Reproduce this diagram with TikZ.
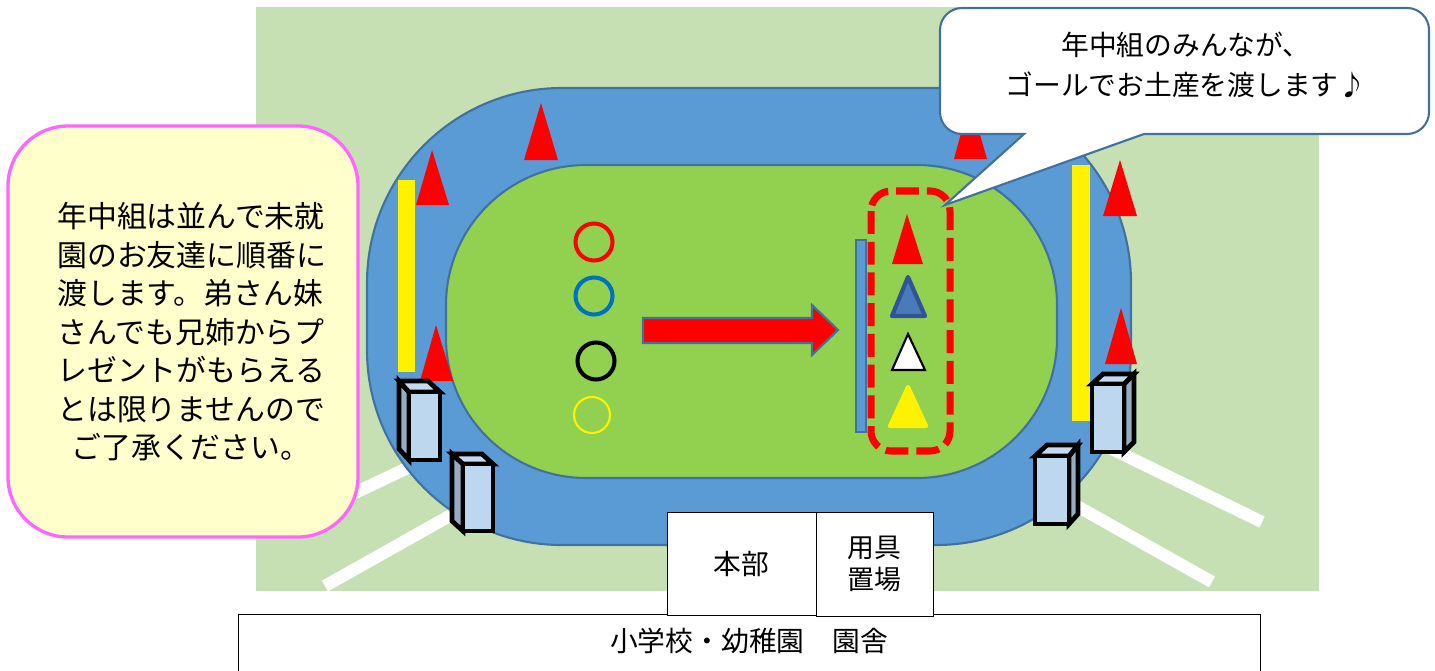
\documentclass[tikz,border=0pt]{standalone}
\usepackage{fontspec}
\setmainfont{Noto Sans CJK JP}
\usepackage{tikz}
\definecolor{lawn}{HTML}{C6E0B4}
\definecolor{track}{HTML}{5B9BD5}
\definecolor{field}{HTML}{92D050}
\definecolor{edgeblue}{HTML}{41719C}
\definecolor{boxfront}{HTML}{BDD7EE}
\definecolor{boxside}{HTML}{97ACC3}
\definecolor{boxtop}{HTML}{C5DAEF}
\definecolor{memo}{HTML}{FFFFCC}
\definecolor{memoline}{HTML}{FF66FF}
\definecolor{navy}{HTML}{2F5597}
\definecolor{conefill}{HTML}{4A7ABC}
\definecolor{ringblue}{HTML}{0070C0}
\tikzset{
  oval/.style={draw=edgeblue,line width=1.2pt},
  lane/.style={white,line width=7pt},
  cone/.style={fill=red},
  bar/.style={fill=yellow},
  ring/.style={fill=none,line width=2.3pt},
  front/.style={draw=black,line width=2.7pt,fill=boxfront,line join=miter},
  side/.style={draw=black,line width=2.7pt,fill=boxside,line join=miter},
  lid/.style={draw=black,line width=2.7pt,fill=boxtop,line join=miter},
  room/.style={draw=black,fill=white,line width=0.5pt,inner sep=0pt,font=\fontsize{15.8pt}{18pt}\selectfont,align=center}
}
\begin{document}
\begin{tikzpicture}[x=0.02cm,y=-0.02cm]
  \useasboundingbox (0,0) rectangle (1435,670);
  \fill[lawn] (256,7) rectangle (1319,591);

  \draw[lane] (420,462) -- (340,500);
  \draw[lane] (460,510) -- (325,586);
  \draw[lane] (1110,448) -- (1262,522);
  \draw[lane] (1075,505) -- (1212,582);

  \draw[oval,fill=track,rounded corners=3.9cm] (367,88) rectangle (1131,545);
  \draw[oval,fill=field,rounded corners=2.8cm] (446,165) rectangle (1057,478);

  \fill[cone] (541,103) -- (558,160) -- (524,160) -- cycle;
  \fill[cone] (432,150) -- (449,205) -- (416,205) -- cycle;
  \fill[cone] (436,325) -- (453,381) -- (420,381) -- cycle;
  \fill[cone] (970,100) -- (987,159) -- (954,159) -- cycle;
  \fill[cone] (1120,160) -- (1137,216) -- (1103,216) -- cycle;
  \fill[cone] (1121,308) -- (1137,364) -- (1105,364) -- cycle;

  \fill[bar] (398,180) rectangle (415,372);
  \fill[bar] (1072,165) rectangle (1090,421);

  \draw[ring,red] (594,242) circle (18.5);
  \draw[ring,ringblue] (594,296) circle (18.5);
  \draw[ring,black] (596,361) circle (18.5);
  \draw[fill=none,yellow,line width=1.2pt] (592,415) circle (18);

  \draw[draw=edgeblue,line width=1.2pt,fill=red] (643,318) -- (812,318) -- (812,305) -- (838,330)
    -- (812,355) -- (812,343) -- (643,343) -- cycle;

  \draw[oval,fill=track] (856,240) rectangle (866,432);
  \draw[red,line width=4pt,dash pattern=on 13pt off 4.5pt,rounded corners=0.4cm] (871,191) rectangle (950,451);

  \fill[cone] (907,214) -- (923,264) -- (892,264) -- cycle;
  \draw[draw=navy,fill=conefill,line width=2.4pt,line join=round] (908,277) -- (925,316) -- (892,316) -- cycle;
  \draw[draw=black,fill=white,line width=1.2pt] (908,334) -- (925,370) -- (892,370) -- cycle;
  \draw[draw=yellow,fill=yellow,line width=2.4pt,line join=round] (908,387) -- (926,426) -- (890,426) -- cycle;

  \draw[side] (399,381) -- (409,392) -- (409,460) -- (399,449) -- cycle;
  \draw[lid] (399,381) -- (428,381) -- (440,392) -- (409,392) -- cycle;
  \draw[front] (409,392) rectangle (440,460);

  \draw[side] (452,454) -- (463,464) -- (463,531) -- (452,521) -- cycle;
  \draw[lid] (452,454) -- (482,454) -- (493,464) -- (463,464) -- cycle;
  \draw[front] (463,464) rectangle (493,531);

  \draw[side] (1124,384) -- (1134,374) -- (1134,442) -- (1124,452) -- cycle;
  \draw[lid] (1092,384) -- (1103,374) -- (1134,374) -- (1124,384) -- cycle;
  \draw[front] (1092,384) rectangle (1124,452);

  \draw[side] (1069,456) -- (1078,445) -- (1078,514) -- (1069,524) -- cycle;
  \draw[lid] (1035,456) -- (1047,445) -- (1078,445) -- (1069,456) -- cycle;
  \draw[front] (1035,456) rectangle (1069,524);

  \draw[draw=memoline,fill=memo,line width=1.9pt,rounded corners=1.2cm] (8,126) rectangle (358,537);
  \node (memo) [anchor=west,align=left,inner sep=0pt,font=\fontsize{17pt}{21.9pt}\selectfont] at (57,332)
    {年中組は並んで未就\\園のお友達に順番に\\渡します。弟さん妹\\さんでも兄姉からプ\\レゼントがもらえる\\とは限りませんので\\\hspace{8pt}ご了承ください。};

  \draw[oval,fill=white] (962,8) -- (1407,8) arc (-90:0:22) -- (1429,112) arc (0:90:22) -- (1144,134)
    -- (945,205) -- (1024,134) -- (962,134) arc (90:180:22) -- (940,30) arc (180:270:22) -- cycle;
  \node (goal) [align=center,inner sep=0pt,font=\fontsize{15.8pt}{22.5pt}\selectfont] at (1186,65)
    {年中組のみんなが、\\ゴールでお土産を渡します♪};

  \draw[draw=black,fill=white,line width=0.5pt] (238,680) -- (238,614) -- (1260,614) -- (1260,680);
  \node (school) [inner sep=0pt,font=\fontsize{15.8pt}{18pt}\selectfont] at (749,641) {小学校・幼稚園　園舎};
  \node (hq) [room,minimum width=2.98cm,minimum height=2.06cm] at (741.5,563.5) {本部};
  \node (gear) [room,minimum width=2.34cm,minimum height=2.08cm,font=\fontsize{15.3pt}{18pt}\selectfont] at (874.5,564) {用具\\置場};
\end{tikzpicture}
\end{document}
